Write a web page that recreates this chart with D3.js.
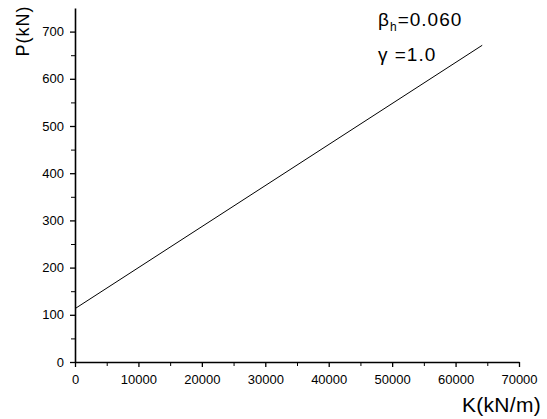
<!DOCTYPE html>
<html>
<head>
<meta charset="utf-8">
<script src="https://cdn.jsdelivr.net/npm/d3@7"></script>
<style>
  body { margin: 0; background: #fff; }
  text { font-family: "Liberation Sans", Arial, sans-serif; fill: #000; }
</style>
</head>
<body>
<div id="chart"></div>
<script>
// line endpoints
const stiffness = [0, 64200];
const load = [113, 671];
const xTicks = [0, 10000, 20000, 30000, 40000, 50000, 60000, 70000];
const yTicks = [0, 100, 200, 300, 400, 500, 600, 700];

const W = 547, H = 419;
const margin = { top: 8, right: 28, bottom: 57, left: 75 };
const width = W - margin.left - margin.right;
const height = H - margin.top - margin.bottom;

const svg = d3.select('#chart').append('svg')
    .attr('width', W).attr('height', H);
const g = svg.append('g')
    .attr('transform', `translate(${margin.left},${margin.top})`);

const x = d3.scaleLinear().domain([0, 70000]).range([0, width]);
const y = d3.scaleLinear().domain([0, 750]).range([height, 0]);

// minor ticks
g.append('g').attr('transform', `translate(0,${height})`)
    .call(d3.axisBottom(x).tickValues(d3.range(5000, 70000, 10000)).tickSize(4).tickFormat(''))
    .call(a => a.select('.domain').remove());
g.append('g')
    .call(d3.axisLeft(y).tickValues(d3.range(50, 750, 100)).tickSize(4).tickFormat(''))
    .call(a => a.select('.domain').remove());

const xAxis = g.append('g').attr('transform', `translate(0,${height})`)
    .call(d3.axisBottom(x).tickValues(xTicks).tickFormat(d3.format('d'))
        .tickSize(5).tickPadding(8).tickSizeOuter(0));
const yAxis = g.append('g')
    .call(d3.axisLeft(y).tickValues(yTicks).tickFormat(d3.format('d'))
        .tickSize(5).tickPadding(6).tickSizeOuter(0));

[xAxis, yAxis].forEach(a => {
    a.select('.domain').attr('stroke-width', 1.6);
    a.selectAll('.tick line').attr('stroke-width', 1.3);
    a.selectAll('text').style('font-size', '13px').attr('fill', '#000');
});
g.selectAll('.tick line').attr('stroke', '#000');

g.append('path')
    .datum(stiffness.map((k, i) => [k, load[i]]))
    .attr('fill', 'none')
    .attr('stroke', '#000')
    .attr('stroke-width', 1)
    .attr('d', d3.line().x(d => x(d[0])).y(d => y(d[1])));

// axis titles
svg.append('text')
    .attr('transform', 'translate(29,31) rotate(-90)')
    .attr('text-anchor', 'middle')
    .style('font-size', '18px')
    .style('letter-spacing', '1px')
    .text('P(kN)');

svg.append('text')
    .attr('x', 541).attr('y', 412)
    .attr('text-anchor', 'end')
    .style('font-size', '21px')
    .style('letter-spacing', '0.3px')
    .text('K(kN/m)');

// annotation
const note = svg.append('text').attr('x', 378).attr('y', 26)
    .style('font-size', '19px').style('letter-spacing', '1px');
note.append('tspan').text('β');
note.append('tspan').attr('dy', 5).style('font-size', '12px').text('h');
note.append('tspan').attr('dy', -5).text('=0.060');

svg.append('text').attr('x', 378).attr('y', 61)
    .style('font-size', '19px').style('letter-spacing', '1px')
    .text('γ =1.0');
</script>
</body>
</html>
